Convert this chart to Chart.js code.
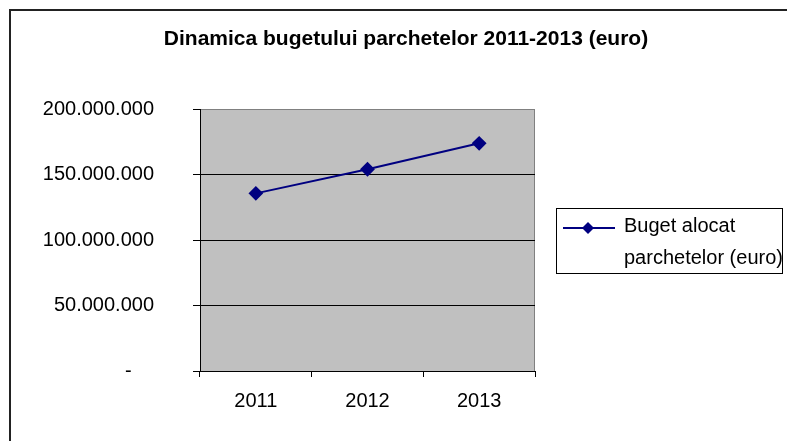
<!DOCTYPE html>
<html>
<head>
<meta charset="utf-8">
<script src="https://cdn.jsdelivr.net/npm/chart.js@4/dist/chart.umd.min.js"></script>
<style>
  html, body { margin: 0; padding: 0; background: #fff; overflow: hidden; }
  #wrap { width: 812px; height: 441px; }
</style>
</head>
<body>
<div id="wrap"><canvas id="budgetChart" width="812" height="441"></canvas></div>
<script>
// Chart data
const chartTitle = 'Dinamica bugetului parchetelor 2011-2013 (euro)';
const years = ['2011', '2012', '2013'];
const budget = [135600000, 154000000, 173800000];
const seriesLabel = ['Buget alocat', 'parchetelor (euro)'];
const yTicks = [0, 50000000, 100000000, 150000000, 200000000];

const FONT = '"Liberation Sans", Arial, sans-serif';
const NAVY = '#000080';

// Format like Excel accounting: dots as thousand separators, dash for zero
const formatEuro = (v) => {
    if (v === 0) return '-    ';
    return String(v).replace(/\B(?=(\d{3})+(?!\d))/g, '.');
};

// Frame, plot background, title and legend
const excelLook = {
    id: 'excelLook',
    beforeDraw(chart) {
        const { ctx, chartArea: a } = chart;
        ctx.save();
        ctx.fillStyle = '#fff';
        ctx.fillRect(0, 0, chart.width, chart.height);
        // outer frame (only top and left visible)
        ctx.strokeStyle = '#222';
        ctx.lineWidth = 2;
        ctx.beginPath();
        ctx.moveTo(10, chart.height + 5);
        ctx.lineTo(10, 10);
        ctx.lineTo(chart.width + 5, 10);
        ctx.stroke();
        // plot area
        ctx.fillStyle = '#c0c0c0';
        ctx.fillRect(a.left, a.top, a.right - a.left, a.bottom - a.top);
        ctx.strokeStyle = '#808080';
        ctx.lineWidth = 1;
        ctx.strokeRect(a.left + 0.5, a.top + 0.5, a.right - a.left - 1, a.bottom - a.top);
        ctx.restore();
    },
    afterDraw(chart) {
        const { ctx } = chart;
        ctx.save();
        // title
        ctx.fillStyle = '#000';
        ctx.font = 'bold 21px ' + FONT;
        ctx.textAlign = 'center';
        ctx.textBaseline = 'alphabetic';
        ctx.fillText(chartTitle, 406, 45);

        // legend
        ctx.strokeStyle = '#000';
        ctx.lineWidth = 1;
        ctx.strokeRect(556.5, 208.5, 226, 65);
        ctx.strokeStyle = NAVY;
        ctx.lineWidth = 2;
        ctx.beginPath();
        ctx.moveTo(563, 228);
        ctx.lineTo(615, 228);
        ctx.stroke();
        ctx.fillStyle = NAVY;
        ctx.beginPath();
        ctx.moveTo(588, 222);
        ctx.lineTo(594, 228);
        ctx.lineTo(588, 234);
        ctx.lineTo(582, 228);
        ctx.closePath();
        ctx.fill();
        ctx.fillStyle = '#000';
        ctx.font = '20px ' + FONT;
        ctx.textAlign = 'left';
        ctx.textBaseline = 'middle';
        seriesLabel.forEach((line, i) => ctx.fillText(line, 624, 226 + i * 32));
        ctx.restore();
    }
};

const ctx = document.getElementById('budgetChart').getContext('2d');
new Chart(ctx, {
    type: 'line',
    data: {
        labels: years,
        datasets: [{
            label: seriesLabel.join(' '),
            data: budget,
            borderColor: NAVY,
            backgroundColor: NAVY,
            borderWidth: 2,
            pointStyle: 'rectRot',
            pointRadius: 6,
            pointHoverRadius: 6,
            tension: 0
        }]
    },
    options: {
        responsive: false,
        animation: false,
        layout: {
            padding: { left: 0, top: 109, right: 277, bottom: 0 }
        },
        plugins: {
            legend: { display: false },
            title: { display: false },
            tooltip: { enabled: false }
        },
        scales: {
            x: {
                offset: true,
                grid: {
                    offset: true,
                    drawOnChartArea: false,
                    drawTicks: true,
                    tickLength: 6,
                    tickColor: '#000'
                },
                border: { color: '#000', width: 1 },
                ticks: {
                    color: '#000',
                    font: { family: FONT, size: 20 },
                    padding: 12,
                    maxRotation: 0
                },
                afterFit: (s) => { s.height = 70; }
            },
            y: {
                min: 0,
                max: 200000000,
                afterBuildTicks: (s) => { s.ticks = yTicks.map(v => ({ value: v })); },
                grid: {
                    color: (c) => (c.tick && c.tick.value === 200000000) ? '#808080' : '#000',
                    tickColor: '#000',
                    tickLength: 7,
                    lineWidth: 1
                },
                border: { color: '#000', width: 1 },
                ticks: {
                    color: '#000',
                    font: { family: FONT, size: 20 },
                    padding: 39,
                    callback: (v) => formatEuro(v)
                },
                afterFit: (s) => { s.width = 200; }
            }
        }
    },
    plugins: [excelLook]
});
</script>
</body>
</html>
